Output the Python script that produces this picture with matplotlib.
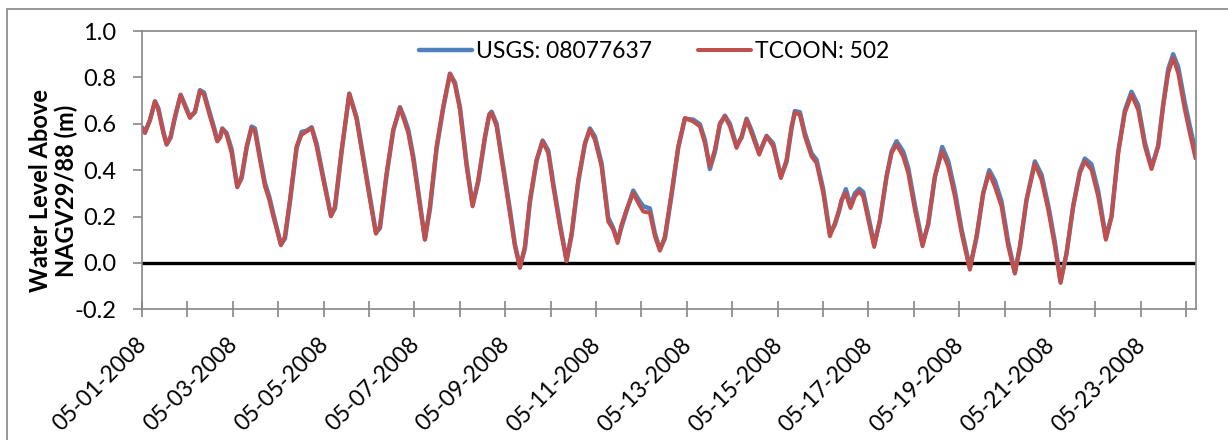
import matplotlib
matplotlib.use("Agg")
import matplotlib.pyplot as plt
import matplotlib.dates as mdates
import matplotlib.transforms as mtransforms
from matplotlib.patches import Rectangle
import numpy as np
import pandas as pd

plt.rcParams['font.family'] = ['Lato', 'DejaVu Sans']

start = "2008-05-01"
label_usgs = "USGS: 08077637"
label_tcoon = "TCOON: 502"
ylabel = "Water Level Above\nNAGV29/88 (m)"

# hours after 05-01-2008 00:00
hours = [0, 1.59, 4.23, 6.87, 8.63, 11.28, 13.04, 15.15, 17.44, 20.44,
         22.73, 25.37, 28.02, 30.66, 32.77, 35.95, 38.06, 39.82, 41.23, 42.47,
         44.76, 47.40, 50.39, 52.68, 55.33, 57.97, 59.73, 62.37, 65.02, 67.31,
         69.42, 73.48, 75.59, 78.23, 81.76, 84.40, 87.05, 89.69, 92.33, 95.85,
         99.91, 102.02, 105.55, 109.60, 113.48, 117.00, 120.52, 123.69, 125.81, 129.33,
         132.86, 136.38, 138.49, 140.79, 143.43, 146.95, 149.59, 152.24, 155.76, 159.28,
         162.81, 165.45, 168.10, 171.62, 174.79, 177.79, 181.31, 183.60, 184.83, 187.48,
         191.00, 194.52, 197.17, 199.81, 202.45, 205.10, 208.62, 211.79, 214.79, 217.43,
         220.95, 224.48, 227.12, 230.65, 234.17, 236.81, 239.46, 242.98, 246.50, 249.15,
         251.44, 253.55, 256.20, 259.72, 262.36, 265.00, 268.53, 271.17, 273.81, 276.46,
         279.98, 283.50, 287.03, 291.43, 294.96, 297.60, 300.24, 302.89, 305.53, 308.17,
         310.82, 314.34, 316.98, 319.63, 322.27, 326.32, 328.44, 330.20, 333.72, 337.78,
         340.77, 343.42, 345.18, 347.82, 350.46, 353.99, 356.63, 360.15, 363.68, 366.32,
         368.61, 369.85, 372.13, 373.37, 374.60, 376.89, 379.18, 381.30, 383.94, 387.11,
         390.11, 393.63, 396.28, 398.92, 402.44, 405.08, 408.61, 412.66, 415.66, 419.18,
         423.06, 426.23, 429.75, 433.28, 437.68, 441.21, 444.73, 447.90, 450.90, 454.42,
         457.94, 461.47, 464.11, 467.64, 472.04, 475.57, 479.09, 482.61, 485.61, 488.78,
         492.30, 495.83, 498.47, 502.00, 505.52, 509.57, 512.57, 516.09, 519.61, 523.14,
         526.66, 530.19, 533.71, 537.23, 539.88, 542.52, 545.16, 547.81, 551.33, 553.97,
         556.97]

tcoon = [0.582, 0.560, 0.618, 0.697, 0.661, 0.560, 0.510, 0.546, 0.632, 0.725,
         0.675, 0.625, 0.653, 0.743, 0.725, 0.632, 0.575, 0.524, 0.539, 0.578,
         0.553, 0.474, 0.326, 0.373, 0.503, 0.582, 0.567, 0.445, 0.330, 0.273,
         0.201, 0.076, 0.115, 0.273, 0.503, 0.553, 0.567, 0.582, 0.503, 0.359,
         0.201, 0.244, 0.488, 0.730, 0.618, 0.445, 0.273, 0.126, 0.158, 0.388,
         0.575, 0.668, 0.618, 0.560, 0.445, 0.244, 0.100, 0.244, 0.503, 0.675,
         0.816, 0.769, 0.661, 0.416, 0.244, 0.359, 0.546, 0.639, 0.647, 0.589,
         0.402, 0.216, 0.072, -0.022, 0.072, 0.273, 0.445, 0.524, 0.474, 0.330,
         0.158, 0.007, 0.129, 0.359, 0.517, 0.575, 0.531, 0.416, 0.179, 0.144,
         0.086, 0.165, 0.230, 0.302, 0.259, 0.222, 0.216, 0.115, 0.053, 0.115,
         0.302, 0.503, 0.625, 0.610, 0.589, 0.517, 0.416, 0.488, 0.603, 0.632,
         0.589, 0.496, 0.546, 0.618, 0.560, 0.467, 0.517, 0.546, 0.503, 0.366,
         0.445, 0.589, 0.649, 0.639, 0.546, 0.460, 0.431, 0.302, 0.115, 0.172,
         0.230, 0.273, 0.302, 0.266, 0.237, 0.287, 0.309, 0.287, 0.187, 0.069,
         0.187, 0.373, 0.474, 0.510, 0.460, 0.388, 0.230, 0.072, 0.172, 0.373,
         0.481, 0.416, 0.287, 0.129, -0.029, 0.115, 0.302, 0.388, 0.330, 0.244,
         0.072, -0.046, 0.072, 0.273, 0.428, 0.359, 0.230, 0.072, -0.086, 0.043,
         0.244, 0.388, 0.438, 0.402, 0.287, 0.100, 0.201, 0.474, 0.647, 0.725,
         0.661, 0.503, 0.405, 0.503, 0.675, 0.819, 0.884, 0.819, 0.661, 0.560,
         0.451]

usgs = [0.585, 0.565, 0.615, 0.697, 0.668, 0.568, 0.512, 0.540, 0.626, 0.725,
        0.682, 0.630, 0.650, 0.745, 0.735, 0.645, 0.585, 0.530, 0.540, 0.580,
        0.560, 0.490, 0.330, 0.365, 0.495, 0.588, 0.580, 0.460, 0.345, 0.285,
        0.212, 0.080, 0.105, 0.262, 0.495, 0.565, 0.570, 0.585, 0.515, 0.370,
        0.205, 0.235, 0.478, 0.730, 0.628, 0.458, 0.285, 0.130, 0.150, 0.378,
        0.570, 0.672, 0.630, 0.575, 0.460, 0.258, 0.102, 0.232, 0.492, 0.668,
        0.816, 0.778, 0.672, 0.430, 0.250, 0.350, 0.538, 0.640, 0.652, 0.600,
        0.415, 0.230, 0.080, -0.015, 0.062, 0.262, 0.440, 0.528, 0.485, 0.345,
        0.170, 0.012, 0.118, 0.348, 0.512, 0.580, 0.545, 0.430, 0.195, 0.150,
        0.095, 0.155, 0.225, 0.312, 0.275, 0.245, 0.235, 0.128, 0.058, 0.105,
        0.292, 0.495, 0.622, 0.618, 0.598, 0.530, 0.405, 0.478, 0.595, 0.635,
        0.600, 0.505, 0.540, 0.622, 0.572, 0.475, 0.512, 0.548, 0.515, 0.372,
        0.435, 0.580, 0.655, 0.650, 0.560, 0.472, 0.445, 0.318, 0.125, 0.165,
        0.225, 0.268, 0.318, 0.282, 0.250, 0.300, 0.320, 0.305, 0.205, 0.080,
        0.180, 0.372, 0.480, 0.525, 0.480, 0.410, 0.250, 0.082, 0.165, 0.370,
        0.500, 0.440, 0.310, 0.145, -0.020, 0.110, 0.300, 0.400, 0.355, 0.265,
        0.090, -0.040, 0.065, 0.272, 0.438, 0.380, 0.250, 0.090, -0.080, 0.040,
        0.245, 0.395, 0.450, 0.425, 0.310, 0.110, 0.200, 0.478, 0.658, 0.738,
        0.680, 0.520, 0.412, 0.505, 0.685, 0.835, 0.900, 0.845, 0.690, 0.590,
        0.480]

times = pd.Timestamp(start) + pd.to_timedelta(hours, unit='h')

fig = plt.figure(figsize=(12.28, 4.4), dpi=100)
ax = fig.add_axes([0.1156, 0.297, 0.8583, 0.6325])

grey = '#868686'
# outer chart frame (only top and left edges fall inside the picture)
fig.patches.append(Rectangle((7 / 1228, -0.1), 1.2, 1 - 9 / 440 + 0.1,
                             transform=fig.transFigure, fill=False,
                             ec=grey, lw=1.2))

ax.plot(times, usgs, color='#4F81BD', lw=3.2, label=label_usgs,
        solid_joinstyle='round', solid_capstyle='round')
ax.plot(times, tcoon, color='#C0504D', lw=2.9, label=label_tcoon,
        solid_joinstyle='round', solid_capstyle='round')
ax.axhline(0, color='black', lw=2.4, zorder=1)

ax.set_xlim(times[0], pd.Timestamp(start) + pd.Timedelta(hours=557.2))
ax.set_ylim(-0.2, 1.0)
ax.set_yticks(np.arange(-0.2, 1.01, 0.2))
ax.yaxis.set_major_formatter(plt.FormatStrFormatter('%.1f'))

ax.xaxis.set_major_locator(mdates.DayLocator(interval=2))
ax.xaxis.set_minor_locator(mdates.DayLocator())
ax.xaxis.set_major_formatter(mdates.DateFormatter('%m-%d-%Y'))

for s in ax.spines.values():
    s.set_color(grey)
    s.set_linewidth(1.2)

ax.tick_params(axis='y', direction='out', length=6.5, width=1.2, color=grey,
               labelsize=17, pad=12)
ax.tick_params(axis='x', which='both', direction='inout', length=11.5, width=1.2,
               color=grey, labelsize=16.5, pad=12)

# rotated date labels, nudged sideways to sit like the original
shift = mtransforms.ScaledTranslation(-0.06, 0, fig.dpi_scale_trans)
for lab in ax.get_xticklabels():
    lab.set_rotation(45)
    lab.set_ha('right')
    lab.set_va('top')
    lab.set_rotation_mode('anchor')
    lab.set_transform(lab.get_transform() + shift)

ax.set_ylabel(ylabel, fontsize=17, fontweight='bold', linespacing=1.1)
ax.yaxis.set_label_coords(-0.0607, 0.427)

ax.legend(loc='center', bbox_to_anchor=(0.486, 0.925), ncol=2, frameon=False,
          fontsize=16.5, handlelength=2.3, handletextpad=0.2, columnspacing=2.0)

fig.savefig('out.png', dpi=100)
